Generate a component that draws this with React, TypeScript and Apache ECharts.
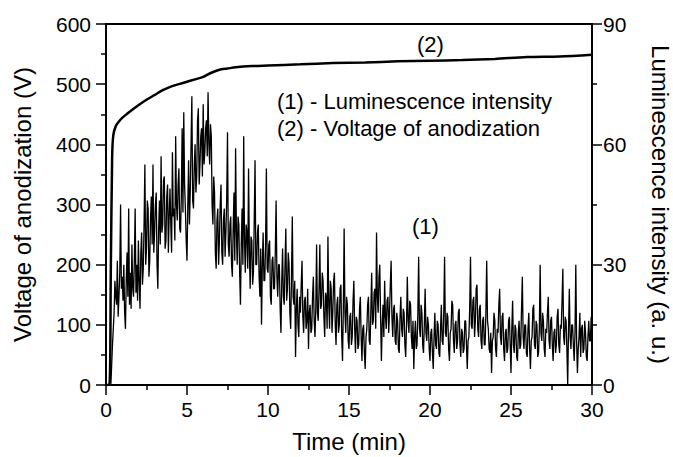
import React, { useEffect, useRef } from "react";
import * as echarts from "echarts";

// Voltage of anodization (V) vs time (min)
const voltTime = [0, 0.2, 0.3, 0.38, 0.45, 0.6, 0.8, 1.0, 1.5, 2, 2.5, 3, 3.5, 4, 4.5, 5, 5.5, 6, 6.5, 7, 7.5, 8, 9, 10, 12, 14, 16, 18, 20, 22, 24, 26, 28, 30];
const voltValues = [0, 0, 200, 380, 415, 430, 438, 444, 455, 465, 474, 482, 490, 496, 500, 504, 508, 512, 519, 524, 526, 528, 530, 531, 533, 535, 536, 538, 539, 540, 542, 545, 546, 549];

// Luminescence intensity (a. u.), sampled every 0.05 min starting at 0.3 min
const lumStart = 0.3;
const lumStep = 0.05;
const lumValues = [
  0, 5, 10, 14, 18, 26, 22, 20, 31, 17, 22, 28, 45, 24,
  27, 21, 30, 18, 14, 26, 33, 22, 44, 20, 28, 19, 35, 24, 22, 31, 44, 23, 30, 21,
  36, 26, 19, 33, 38, 25, 29, 40, 55, 30, 34, 46, 44, 27, 31, 42, 47, 35, 55, 33,
  38, 45, 48, 30, 24, 39, 46, 35, 57, 38, 40, 51, 52, 34, 36, 47, 50, 33, 42, 49,
  40, 33, 58, 42, 44, 36, 62, 45, 41, 50, 54, 39, 38, 47, 64, 43, 68, 50, 44, 36,
  31, 45, 56, 40, 48, 60, 72, 46, 44, 55, 60, 48, 52, 66, 69, 50, 55, 62, 64, 52,
  70, 55, 58, 64, 66, 57, 73, 60, 55, 65, 62, 45, 40, 52, 48, 33, 29, 41, 44, 30,
  36, 45, 50, 33, 30, 41, 44, 32, 38, 46, 63, 35, 32, 40, 42, 30, 27, 39, 48, 31,
  59, 38, 30, 42, 40, 28, 20, 35, 44, 30, 62, 36, 28, 40, 38, 29, 54, 33, 24, 37,
  36, 25, 28, 41, 56, 30, 30, 38, 40, 27, 22, 34, 15, 30, 38, 26, 26, 35, 54, 29,
  28, 35, 36, 22, 20, 31, 32, 24, 24, 33, 46, 27, 22, 30, 30, 19, 13, 26, 34, 22,
  20, 30, 39, 21, 24, 33, 30, 18, 14, 27, 42, 22, 20, 26, 7, 19, 24, 15, 12, 22,
  18, 25, 31, 17, 13, 21, 22, 14, 16, 24, 9, 18, 20, 13, 14, 22, 27, 16, 12, 19,
  35, 18, 16, 24, 35, 19, 20, 28, 26, 17, 12, 23, 22, 14, 37, 20, 14, 26, 24, 13,
  18, 26, 28, 15, 10, 20, 22, 13, 15, 24, 25, 12, 6, 19, 39, 18, 13, 22, 20, 11,
  9, 17, 18, 10, 12, 21, 26, 14, 8, 17, 16, 9, 10, 19, 22, 12, 6, 14, 15, 8,
  4, 12, 14, 20, 22, 11, 10, 19, 28, 15, 16, 23, 24, 14, 38, 22, 18, 27, 30, 17,
  6, 15, 20, 12, 26, 17, 14, 21, 22, 13, 18, 25, 31, 17, 12, 19, 20, 11, 10, 18,
  16, 9, 8, 17, 22, 14, 12, 19, 18, 10, 7, 15, 27, 16, 13, 21, 20, 12, 9, 16,
  4, 12, 16, 9, 10, 18, 32, 14, 12, 20, 18, 10, 8, 15, 24, 13, 11, 17, 15, 9,
  6, 13, 14, 8, 4, 12, 18, 10, 9, 16, 15, 8, 7, 14, 20, 11, 10, 18, 32, 13,
  12, 18, 17, 9, 6, 13, 14, 21, 20, 11, 8, 15, 16, 9, 11, 18, 19, 10, 7, 14,
  13, 8, 9, 16, 16, 10, 4, 11, 12, 19, 32, 15, 14, 21, 22, 12, 16, 24, 25, 14,
  12, 19, 20, 11, 9, 16, 17, 10, 10, 18, 31, 16, 14, 9, 8, 13, 3, 11, 12, 18,
  16, 9, 7, 14, 13, 20, 24, 12, 10, 17, 18, 9, 6, 13, 14, 8, 9, 16, 17, 10,
  3, 14, 21, 10, 8, 15, 14, 7, 6, 13, 16, 9, 10, 19, 27, 12, 9, 15, 15, 8,
  7, 14, 18, 9, 4, 11, 12, 19, 20, 10, 9, 16, 15, 7, 8, 14, 30, 13, 11, 18,
  16, 9, 7, 14, 13, 18, 22, 11, 9, 16, 17, 10, 6, 13, 14, 8, 10, 17, 19, 10,
  8, 15, 14, 21, 29, 12, 10, 17, 16, 9, 0, 14, 24, 12, 9, 15, 15, 10, 6, 13,
  30, 11, 3, 9, 12, 18, 7, 14, 15, 8, 9, 16, 13, 7, 6, 12, 16, 11, 11, 17,
  6,
];

const xTicks = { min: 0, max: 30, interval: 5 };
const leftTicks = { min: 0, max: 600, interval: 100 };
const rightTicks = { min: 0, max: 90, interval: 30 };

const FONT = "'Liberation Sans', Arial, sans-serif";

export default function App() {
  const ref = useRef<HTMLDivElement>(null);
  useEffect(() => {
    if (!ref.current) return;
    const chart = echarts.init(ref.current, null, { renderer: "svg" });
    const voltData = voltTime.map((t, i) => [t, voltValues[i]]);
    const lumData = lumValues.map((v, i) => [Math.round((lumStart + i * lumStep) * 1000) / 1000, v]);
    const axisLine = { show: true, lineStyle: { color: "#000", width: 2 } };
    const tick = { show: true, inside: false, length: 10, lineStyle: { color: "#000", width: 1.5 } };
    const minor = { show: true, splitNumber: 2, length: 5, lineStyle: { color: "#000", width: 1.5 } };
    const label = { color: "#000", fontSize: 21, fontFamily: FONT };
    const nameStyle = { color: "#000", fontSize: 24, fontFamily: FONT };
    chart.setOption({
      animation: false,
      backgroundColor: "#fff",
      grid: {
        left: 106, right: 81, top: 24, bottom: 72,
        containLabel: false, outerBoundsMode: "none",
        show: true, borderColor: "#000", borderWidth: 2, backgroundColor: "transparent",
      },
      xAxis: {
        type: "value",
        ...xTicks,
        name: "Time (min)",
        nameLocation: "middle",
        nameGap: 44,
        nameTextStyle: nameStyle,
        axisLine,
        axisTick: tick,
        minorTick: minor,
        axisLabel: { ...label, margin: 14 },
        splitLine: { show: false },
      },
      yAxis: [
        {
          type: "value",
          ...leftTicks,
          position: "left",
          name: "Voltage of anodization (V)",
          nameLocation: "middle",
          nameGap: 72,
          nameTextStyle: nameStyle,
          axisLine,
          axisTick: tick,
          minorTick: minor,
          axisLabel: { ...label, margin: 15 },
          splitLine: { show: false },
        },
        {
          type: "value",
          ...rightTicks,
          position: "right",
          name: "Luminescence intensity (a. u.)",
          nameLocation: "middle",
          nameRotate: -90,
          nameGap: 56,
          nameTextStyle: nameStyle,
          axisLine,
          axisTick: tick,
          minorTick: minor,
          axisLabel: { ...label, margin: 11 },
          splitLine: { show: false },
        },
      ],
      series: [
        {
          name: "Voltage of anodization",
          type: "line",
          yAxisIndex: 0,
          data: voltData,
          smooth: 0.3,
          showSymbol: false,
          lineStyle: { color: "#000", width: 2.5 },
        },
        {
          name: "Luminescence intensity",
          type: "line",
          yAxisIndex: 1,
          data: lumData,
          showSymbol: false,
          lineStyle: { color: "#000", width: 1.3 },
        },
      ],
      graphic: [
        { type: "text", left: 277, top: 90, style: { text: "(1) - Luminescence intensity", fill: "#000", fontSize: 22, fontFamily: FONT } },
        { type: "text", left: 277, top: 117, style: { text: "(2) - Voltage of anodization", fill: "#000", fontSize: 22, fontFamily: FONT } },
        { type: "text", left: 417, top: 33, style: { text: "(2)", fill: "#000", fontSize: 22, fontFamily: FONT } },
        { type: "text", left: 412, top: 215, style: { text: "(1)", fill: "#000", fontSize: 22, fontFamily: FONT } },
      ],
    });
    return () => chart.dispose();
  }, []);
  return <div ref={ref} style={{ position: "fixed", left: 0, top: 0, width: 673, height: 457 }} />;
}
